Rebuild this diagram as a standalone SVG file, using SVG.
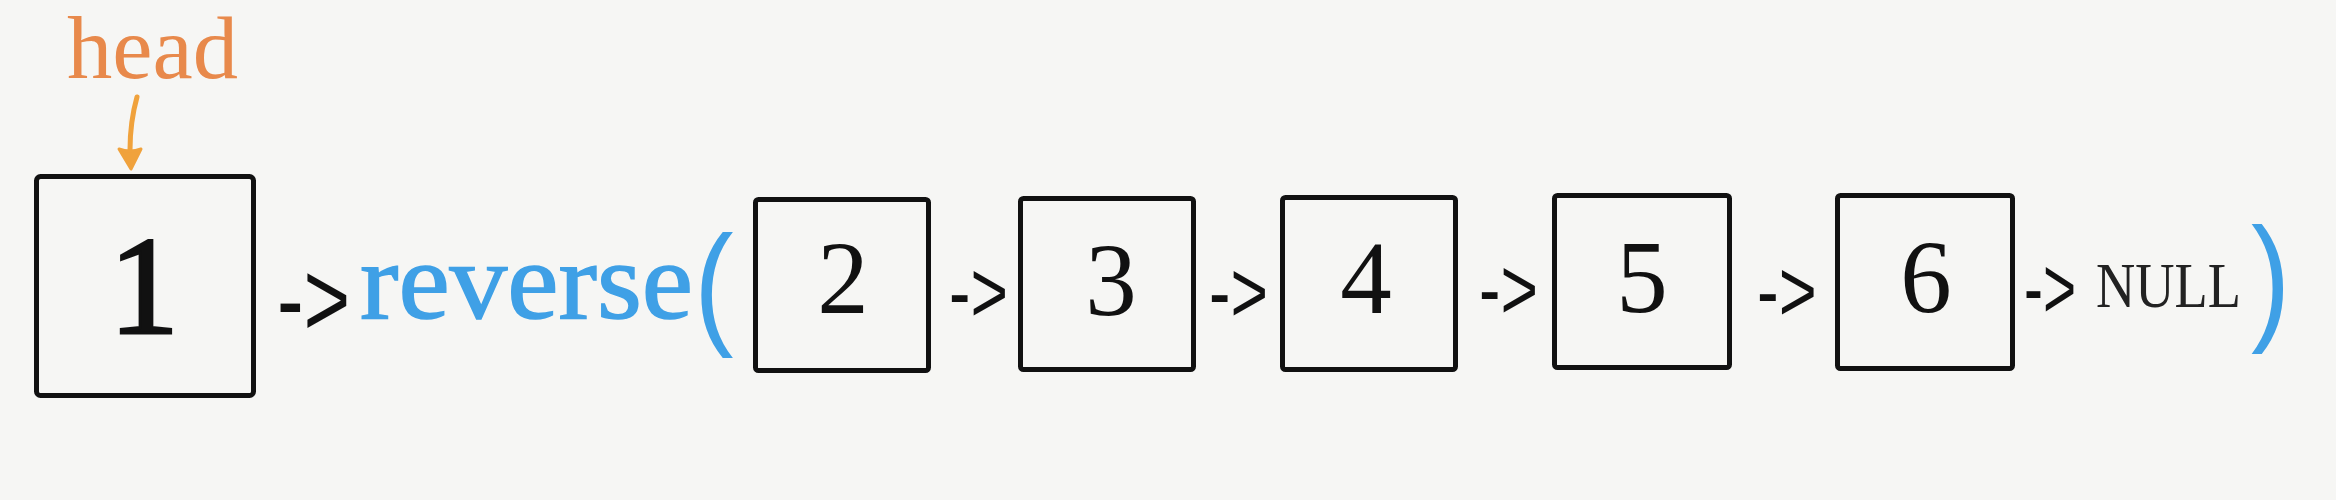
<svg xmlns="http://www.w3.org/2000/svg" width="2336" height="500" viewBox="0 0 2336 500">
<style>
.box{fill:none;stroke:#111;stroke-width:5;}
.num{font-family:"Liberation Serif",serif;fill:#111;text-anchor:middle;font-size:103px;}
.arr{font-family:"Liberation Sans",sans-serif;fill:#111;font-size:88px;}
.arr-big{font-family:"Liberation Sans",sans-serif;fill:#111;font-size:108px;}
.blue{fill:#3fa0e6;}
.paren{font-family:"Liberation Sans",sans-serif;fill:#3fa0e6;}
</style>
<rect x="0" y="0" width="2336" height="500" fill="#f6f6f4"/>
<g id="head-label">
<text x="67" y="78" font-family="Liberation Serif, serif" font-size="88" fill="#e8894b" textLength="171" lengthAdjust="spacingAndGlyphs">head</text>
</g>
<g id="node1">
<rect class="box" x="36.5" y="176.5" width="217" height="219" rx="4" stroke-width="6"/>
<text x="144" y="333" font-family="Liberation Serif, serif" font-size="140" fill="#111" stroke="#111" stroke-width="3" text-anchor="middle">1</text>
</g>
<g id="reverse-call">
<text x="360" y="318" font-family="Liberation Serif, serif" font-size="110" class="blue" stroke="#3fa0e6" stroke-width="1.5" textLength="333" lengthAdjust="spacingAndGlyphs">reverse</text>
<text class="paren" font-size="135" transform="translate(694,330) scale(0.88,1)">(</text>
<text class="paren" font-size="139" transform="translate(2251,325) scale(0.85,1)">)</text>
</g>
<g id="node2">
<rect class="box" x="755.5" y="199.5" width="173" height="171" rx="3"/>
<text class="num" x="843" y="313">2</text>
</g>
<g id="node3">
<rect class="box" x="1020.5" y="198.5" width="173" height="171" rx="3"/>
<text class="num" x="1111" y="315">3</text>
</g>
<g id="node4">
<rect class="box" x="1282.5" y="197.5" width="173" height="172" rx="3"/>
<text class="num" x="1366" y="313">4</text>
</g>
<g id="node5">
<rect class="box" x="1554.5" y="195.5" width="175" height="172" rx="3"/>
<text class="num" x="1642" y="312">5</text>
</g>
<g id="node6">
<rect class="box" x="1837.5" y="195.5" width="175" height="173" rx="3"/>
<text class="num" x="1926" y="312">6</text>
</g>
<g id="null">
<text x="2096" y="307" font-family="Liberation Serif, serif" font-size="63" fill="#222" textLength="145" lengthAdjust="spacingAndGlyphs">NULL</text>
</g>
<g id="connectors">
<path d="M137,97 Q130,122 130,150" fill="none" stroke="#f0a23c" stroke-width="5" stroke-linecap="round"/>
<path d="M119,149 Q130,153 141,149 L131,169 Z" fill="#f0a23c" stroke="#f0a23c" stroke-width="3" stroke-linejoin="round"/>
<text class="arr-big" transform="translate(277,336) scale(0.74,1)">-&gt;</text>
<text class="arr" transform="translate(949,322) scale(0.73,1)">-&gt;</text>
<text class="arr" transform="translate(1209,322) scale(0.73,1)">-&gt;</text>
<text class="arr" transform="translate(1479,319) scale(0.73,1)">-&gt;</text>
<text class="arr" transform="translate(1757,321) scale(0.74,1)">-&gt;</text>
<text class="arr" transform="translate(2024,318) scale(0.645,1)">-&gt;</text>
</g>
</svg>
